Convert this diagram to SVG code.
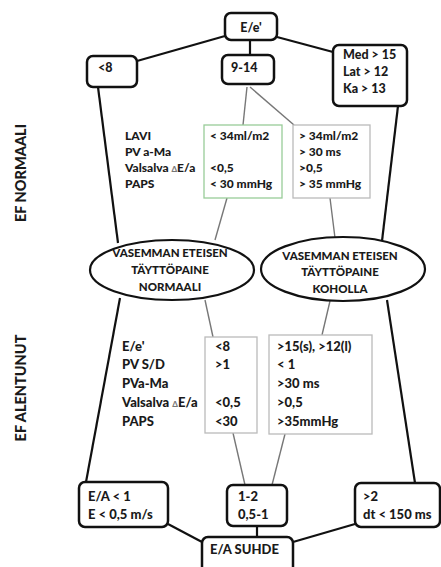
<svg xmlns="http://www.w3.org/2000/svg" width="441" height="567" viewBox="0 0 441 567">
<style>
text{font-family:Lato,"Open Sans","Liberation Sans",sans-serif;font-weight:900;fill:#1a1a1a}
.t{font-size:12.5px}
.s{font-size:11.5px}
.u{font-size:12px}
.l{font-size:13px}
.side{font-size:14.5px}
.box{fill:#fff;stroke:#111;stroke-width:2.5}
.ell{fill:#fff;stroke:#111;stroke-width:2.2}
.main{stroke:#111;stroke-width:2.2;fill:none}
.thin{stroke:#777;stroke-width:1.4;fill:none}
.vbox{fill:#fff;stroke:#bbb;stroke-width:1.3}
.gbox{fill:#fff;stroke:#9c9;stroke-width:1.3}
.d{font-size:8px;fill:#777}
</style>
<g id="connectors">
<line class="main" x1="225" y1="36" x2="137" y2="61"/>
<line class="main" x1="277" y1="37" x2="333" y2="52"/>
<line class="main" x1="250" y1="40" x2="250" y2="55"/>
<line class="main" x1="98" y1="87" x2="118" y2="243"/>
<line class="main" x1="398" y1="106" x2="382" y2="241"/>
<line class="thin" x1="247" y1="87" x2="243" y2="125"/>
<line class="thin" x1="250" y1="87" x2="294" y2="125"/>
<line class="thin" x1="227" y1="198" x2="215" y2="240"/>
<line class="thin" x1="330" y1="198" x2="335" y2="238"/>
<line class="main" x1="120" y1="298" x2="86" y2="482"/>
<line class="main" x1="387" y1="300" x2="415" y2="483"/>
<line class="thin" x1="205" y1="300" x2="213" y2="337"/>
<line class="thin" x1="330" y1="301" x2="322" y2="335"/>
<line class="thin" x1="233" y1="433" x2="245" y2="485"/>
<line class="thin" x1="285" y1="434" x2="272" y2="485"/>
<line class="main" x1="168" y1="524" x2="202" y2="542"/>
<line class="main" x1="257" y1="526" x2="257" y2="537"/>
<line class="main" x1="355" y1="524" x2="293" y2="542"/>
</g>
<g id="side-labels">
<text class="side" transform="translate(26,173) rotate(-90)" text-anchor="middle">EF NORMAALI</text>
<text class="side" transform="translate(26,388) rotate(-90)" text-anchor="middle">EF ALENTUNUT</text>
</g>
<g id="n-ee">
<rect class="box" x="225" y="13" width="52" height="27" rx="6"/>
<text class="t" x="251" y="32" text-anchor="middle">E/e'</text>
</g>
<g id="n-lt8">
<rect class="box" x="87" y="56" width="50" height="31" rx="6"/>
<text class="t" x="98" y="72">&lt;8</text>
</g>
<g id="n-914">
<rect class="box" x="222" y="55" width="52" height="29" rx="6"/>
<text class="t" x="231" y="72">9-14</text>
</g>
<g id="n-med">
<rect class="box" x="333" y="45" width="74" height="61" rx="6"/>
<text class="t" x="343" y="59">Med &gt; 15</text>
<text class="t" x="343" y="76">Lat &gt; 12</text>
<text class="t" x="343" y="93">Ka &gt; 13</text>
</g>
<g id="labels-upper">
<text class="u" x="125" y="140">LAVI</text>
<text class="u" x="125" y="156">PV a-Ma</text>
<text class="u" x="125" y="172">Valsalva <tspan class="d">Δ</tspan>E/a</text>
<text class="u" x="125" y="188">PAPS</text>
</g>
<g id="v-normal-upper">
<rect class="gbox" x="204" y="125" width="78" height="73"/>
<text class="u" x="210" y="140">&lt; 34ml/m2</text>
<text class="u" x="210" y="172">&lt;0,5</text>
<text class="u" x="210" y="188">&lt; 30 mmHg</text>
</g>
<g id="v-high-upper">
<rect class="vbox" x="293" y="125" width="77" height="73"/>
<text class="u" x="299" y="140">&gt; 34ml/m2</text>
<text class="u" x="299" y="156">&gt; 30 ms</text>
<text class="u" x="299" y="172">&gt;0,5</text>
<text class="u" x="299" y="188">&gt; 35 mmHg</text>
</g>
<g id="e-normal">
<ellipse class="ell" cx="172" cy="270" rx="82" ry="30"/>
<text class="s" x="170" y="257" text-anchor="middle">VASEMMAN ETEISEN</text>
<text class="s" x="170" y="274" text-anchor="middle">TÄYTTÖPAINE</text>
<text class="s" x="170" y="291" text-anchor="middle">NORMAALI</text>
</g>
<g id="e-high">
<ellipse class="ell" cx="343" cy="269" rx="82" ry="32"/>
<text class="s" x="340" y="260" text-anchor="middle">VASEMMAN ETEISEN</text>
<text class="s" x="340" y="276" text-anchor="middle">TÄYTTÖPAINE</text>
<text class="s" x="340" y="293" text-anchor="middle">KOHOLLA</text>
</g>
<g id="labels-lower">
<text class="l" x="122" y="351">E/e'</text>
<text class="l" x="122" y="369">PV S/D</text>
<text class="l" x="122" y="388">PVa-Ma</text>
<text class="l" x="122" y="407">Valsalva <tspan class="d">Δ</tspan>E/a</text>
<text class="l" x="122" y="426">PAPS</text>
</g>
<g id="v-normal-lower">
<rect class="vbox" x="205" y="337" width="52" height="96"/>
<text class="l" x="215" y="351">&lt;8</text>
<text class="l" x="215" y="369">&gt;1</text>
<text class="l" x="215" y="407">&lt;0,5</text>
<text class="l" x="215" y="426">&lt;30</text>
</g>
<g id="v-high-lower">
<rect class="vbox" x="269" y="335" width="103" height="99"/>
<text class="l" x="277" y="351">&gt;15(s), &gt;12(l)</text>
<text class="l" x="277" y="369">&lt; 1</text>
<text class="l" x="277" y="388">&gt;30 ms</text>
<text class="l" x="277" y="407">&gt;0,5</text>
<text class="l" x="277" y="426">&gt;35mmHg</text>
</g>
<g id="n-ea1">
<rect class="box" x="79" y="482" width="89" height="45" rx="6"/>
<text class="l" x="88" y="501">E/A &lt; 1</text>
<text class="l" x="88" y="519">E &lt; 0,5 m/s</text>
</g>
<g id="n-12">
<rect class="box" x="227" y="485" width="60" height="41" rx="6"/>
<text class="l" x="238" y="501">1-2</text>
<text class="l" x="238" y="519">0,5-1</text>
</g>
<g id="n-gt2">
<rect class="box" x="355" y="483" width="85" height="44" rx="6"/>
<text class="l" x="363" y="501">&gt;2</text>
<text class="l" x="363" y="519">dt &lt; 150 ms</text>
</g>
<g id="n-suhde">
<rect class="box" x="202" y="537" width="91" height="40" rx="6"/>
<text class="l" x="210" y="554">E/A SUHDE</text>
</g>
</svg>
